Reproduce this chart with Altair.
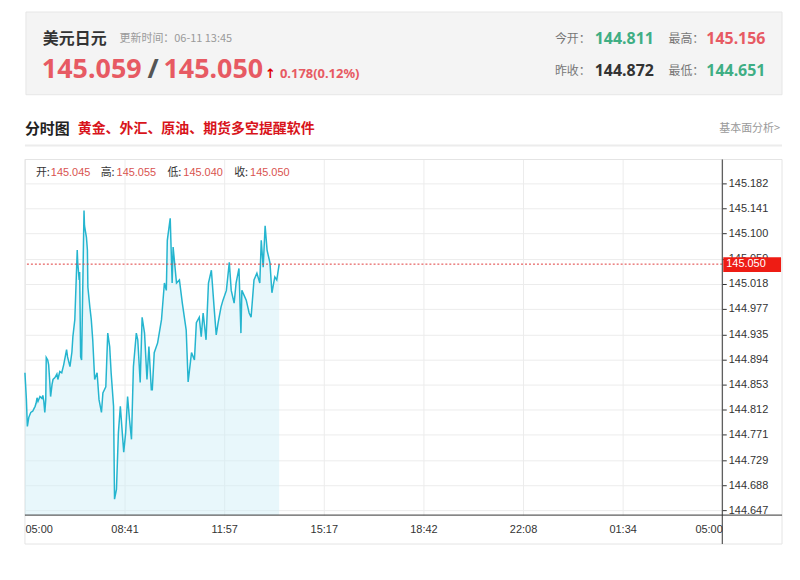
import json
import altair as alt
import pandas as pd

# ---------------- data ----------------
# minutes after 05:00 and USD/JPY price
minutes = [0, 3, 5, 8, 12, 16, 21, 23, 25, 27, 31, 35, 37, 39, 41, 43, 44, 47, 49, 51,
           53, 56, 58, 62, 66, 68, 72, 76, 80, 86, 88, 93, 97, 99, 103, 108, 109, 112, 113, 115,
           117, 119, 122, 123, 127, 129, 130, 134, 137, 140, 144, 149, 153, 158, 161, 167, 171, 175, 178, 183,
           185, 189, 193, 197, 201, 204, 208, 212, 216, 220, 224, 230, 233, 238, 242, 247, 252, 256, 261, 263,
           267, 274, 282, 288, 292, 294, 300, 304, 306, 313, 319, 325, 333, 337, 344, 350, 354, 360, 364, 368,
           374, 379, 385, 391, 395, 399, 405, 409, 416, 422, 426, 432, 436, 442, 446, 448, 457, 463, 467, 473,
           479, 485, 488, 492, 496, 500, 506, 510, 516, 520, 525]
prices = [144.872, 144.828, 144.784, 144.799, 144.807, 144.809, 144.817, 144.822, 144.831, 144.825,
          144.833, 144.830, 144.835, 144.825, 144.807, 144.828, 144.897, 144.893, 144.885, 144.861,
          144.833, 144.853, 144.861, 144.864, 144.870, 144.861, 144.874, 144.872, 144.885, 144.910,
          144.898, 144.882, 144.906, 144.931, 144.959, 145.073, 145.053, 145.024, 145.037, 144.898,
          144.893, 144.991, 145.138, 145.113, 145.094, 145.073, 145.012, 144.980, 144.959, 144.926,
          144.861, 144.872, 144.828, 144.807, 144.839, 144.849, 144.937, 144.915, 144.872, 144.817,
          144.665, 144.681, 144.774, 144.817, 144.774, 144.742, 144.774, 144.833, 144.795, 144.763,
          144.882, 144.937, 144.926, 144.856, 144.963, 144.937, 144.861, 144.915, 144.844, 144.844,
          144.905, 144.921, 144.959, 145.019, 145.007, 145.089, 145.125, 145.019, 145.078, 145.019,
          145.024, 144.986, 144.942, 144.857, 144.905, 144.893, 144.954, 144.963, 144.931, 144.970,
          144.926, 145.019, 145.040, 144.975, 144.934, 144.954, 144.980, 144.991, 145.007, 145.053,
          145.007, 144.986, 145.019, 145.043, 144.937, 145.007, 144.991, 144.970, 144.963, 145.024,
          145.035, 145.019, 145.089, 145.045, 145.113, 145.073, 145.052, 145.003, 145.029, 145.024,
          145.050]

y_ticks = [144.647, 144.688, 144.729, 144.771, 144.812, 144.853, 144.894, 144.935,
           144.977, 145.018, 145.059, 145.100, 145.141, 145.182]
y_domain = [144.6388, 145.2215]
x_tick_labels = ["05:00", "08:41", "11:57", "15:17", "18:42", "22:08", "01:34", "05:00"]
x_domain = [0, 1440]

symbol_name = "美元日元"
update_time = "更新时间：06-11 13:45"
bid_text = "145.059"
ask_text = "145.050"
change_text = "0.178(0.12%)"
open_label, open_value = "今开：", "144.811"
high_label, high_value = "最高：", "145.156"
prev_label, prev_value = "昨收：", "144.872"
low_label, low_value = "最低：", "144.651"
section_title = "分时图"
promo_text = "黄金、外汇、原油、期货多空提醒软件"
link_text = "基本面分析>"
ohlc_labels = ["开:", "高:", "低:", "收:"]
ohlc_values = ["145.045", "145.055", "145.040", "145.050"]
last_price = [145.050]
last_price_text = "145.050"

# ---------------- chart ----------------
CJK = "Noto Sans CJK SC"
NUM = "Noto Sans"
AX = "Liberation Sans"
RED = "#e75a63"
GREEN = "#3fae84"

df = pd.DataFrame({"t": minutes, "price": prices})
last_df = pd.DataFrame({"price": last_price})
one = pd.DataFrame({"k": [0]})

x_ticks = [i * (x_domain[1] - x_domain[0]) / (len(x_tick_labels) - 1) for i in range(len(x_tick_labels))]
label_expr = json.dumps(x_tick_labels) + "[round(datum.value*%d/%d)]" % (len(x_tick_labels) - 1, x_domain[1])

xs = alt.X("t:Q",
           scale=alt.Scale(domain=x_domain, nice=False, zero=False),
           axis=alt.Axis(values=x_ticks, tickCount=len(x_ticks) + 2, labelExpr=label_expr, grid=True,
                         gridColor="#ececec", ticks=False, domain=False, labelFlush=True,
                         labelOverlap=False, labelFontSize=11,
                         labelColor="#333333", labelFont=AX, labelPadding=8, title=None))
ys = alt.Y("price:Q",
           scale=alt.Scale(domain=y_domain, nice=False, zero=False),
           axis=alt.Axis(orient="right", values=y_ticks, tickCount=len(y_ticks) + 2, format=".3f",
                         grid=True, gridColor="#ececec",
                         tickColor="#333333", tickSize=4, domain=False, labelFontSize=11,
                         labelOverlap=False, labelFlush=False,
                         labelColor="#333333", labelFont=AX, labelPadding=2, title=None))


def txt(s, x, y, size, color, bold=False, font=CJK, align="left"):
    return alt.Chart(one).mark_text(
        text=s, align=align, baseline="middle", fontSize=size, color=color,
        fontWeight="bold" if bold else "normal", font=font
    ).encode(x=alt.value(x), y=alt.value(y))


def box(x, x2, y, y2, fill, stroke="transparent", fill_opacity=1.0):
    return alt.Chart(one).mark_rect(fill=fill, fillOpacity=fill_opacity, stroke=stroke, strokeWidth=1).encode(
        x=alt.value(x), x2=alt.value(x2), y=alt.value(y), y2=alt.value(y2))


frame = box(0, 760, 0, 386, "#ffffff", stroke="#e4e4e4", fill_opacity=0)
header = box(1, 760, -148, -65, "#f4f4f4", stroke="#e6e6e6")
sep = box(0, 760, -15, -13, "#ececec")

area = alt.Chart(df).mark_area(color="#cdeef6", opacity=0.45).encode(
    x=xs, y=ys, y2=alt.datum(y_domain[0]))
line = alt.Chart(df).mark_line(color="#25b5cf", strokeWidth=1.5).encode(x=xs, y=ys)
last_rule = alt.Chart(last_df).mark_rule(color="#e03c3c", strokeDash=[2, 2], strokeWidth=1).encode(y="price:Q")

x_line = alt.Chart(one).mark_rule(color="#333333", strokeWidth=1).encode(
    x=alt.value(0), x2=alt.value(760), y=alt.value(357))
y_line = alt.Chart(one).mark_rule(color="#333333", strokeWidth=1).encode(
    x=alt.value(700), y=alt.value(0), y2=alt.value(386))

price_box = alt.Chart(last_df).mark_rect(color="#ee1c14", yOffset=-7, y2Offset=8).encode(
    x=alt.value(701), x2=alt.value(759), y="price:Q", y2="price")
price_box_text = alt.Chart(last_df).mark_text(
    text=last_price_text, align="left", baseline="middle", fontSize=11, color="#ffffff", font=AX
).encode(x=alt.value(704), y="price:Q")

texts = [
    txt(symbol_name, 18, -121, 16, "#333333", bold=True),
    txt(update_time, 95, -121, 11, "#9a9a9a"),
    txt(bid_text, 17, -90, 27, RED, bold=True, font=NUM),
    txt("/", 123, -90, 27, "#555555", bold=True, font=NUM),
    txt(ask_text, 139, -90, 27, RED, bold=True, font=NUM),
    txt("↑", 241, -86, 13, "#dd0000", bold=True, font="DejaVu Sans"),
    txt(change_text, 256, -86, 13, RED, bold=True, font=NUM),
    txt(open_label, 532, -121, 12, "#777777"),
    txt(open_value, 572, -121, 16, GREEN, bold=True, font=NUM),
    txt(high_label, 646, -121, 12, "#777777"),
    txt(high_value, 684, -121, 16, RED, bold=True, font=NUM),
    txt(prev_label, 532, -89, 12, "#777777"),
    txt(prev_value, 572, -89, 16, "#333333", bold=True, font=NUM),
    txt(low_label, 646, -89, 12, "#777777"),
    txt(low_value, 684, -89, 16, GREEN, bold=True, font=NUM),
    txt(section_title, 0, -31, 15, "#222222", bold=True),
    txt(promo_text, 53, -31, 14, "#d8141b", bold=True),
    txt(link_text, 758, -31, 11, "#9a9a9a", align="right"),
]
ohlc_x = [(11, 26), (76, 92), (143, 159), (210, 226)]
for (lx, vx), lab, val in zip(ohlc_x, ohlc_labels, ohlc_values):
    texts.append(txt(lab, lx, 14, 11, "#333333"))
    texts.append(txt(val, vx, 14, 11, "#d9534f", font=AX))

chart = alt.layer(
    frame, header, sep, area, line, last_rule, x_line, y_line, price_box, price_box_text, *texts
).properties(
    width=700, height=357,
    padding={"left": 17, "top": 151, "right": 70, "bottom": 40},
    autosize=alt.AutoSizeParams(type="none"),
    background="white",
).configure_view(stroke="transparent")

chart.save("out.html", embed_options={"renderer": "svg", "actions": False})
